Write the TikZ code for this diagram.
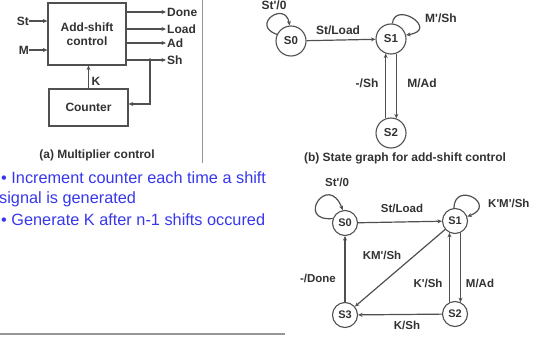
\documentclass[tikz,border=0pt]{standalone}
\usepackage{fontspec}
\setmainfont{Liberation Sans}
\newfontfamily\dfont{Liberation Sans}
\usetikzlibrary{arrows.meta,calc}
\definecolor{ln}{RGB}{80,80,80}
\definecolor{tx}{RGB}{50,50,50}
\definecolor{bl}{RGB}{55,55,235}
\definecolor{sep}{RGB}{150,150,150}
\begin{document}
\begin{tikzpicture}[x=1pt,y=-1pt,
  lbl/.style={font=\dfont\fontsize{12}{13}\selectfont\bfseries, text=tx, inner sep=0pt},
  lblc/.style={font=\dfont\fontsize{11.5}{12}\selectfont\bfseries, text=tx, inner sep=0pt},
  blk/.style={draw=ln, line width=1.2pt, font=\dfont\fontsize{12}{14}\selectfont\bfseries, text=tx, align=center},
  stb/.style={circle, draw=ln, line width=1.1pt, minimum size=30pt, inner sep=0pt, font=\dfont\fontsize{11.5}{12}\selectfont\bfseries, text=tx},
  stc/.style={circle, draw=ln, line width=1.1pt, minimum size=25pt, inner sep=0pt, font=\dfont\fontsize{11}{12}\selectfont\bfseries, text=tx},
  wire/.style={draw=ln, line width=1.2pt},
  arr/.style={wire, -{Stealth[length=4.5pt,width=4pt]}},
  bul/.style={font=\fontsize{16.3}{18}\selectfont, text=bl, anchor=base west, inner sep=0pt}]
\useasboundingbox (0,0) rectangle (543,337);

% ---------- (a) Multiplier control ----------
\node[blk, minimum width=78pt, minimum height=62pt] (ctl) at (87,34) {Add-shift\\control};
\node[blk, minimum width=79pt, minimum height=37pt] (cnt) at (88.5,107.5) {Counter};

\node[lbl, anchor=east] (st) at (29,21) {St};
\node[lbl, anchor=east] (m) at (29,50) {M};
\draw[arr] (st.east) -- (st.east -| ctl.west);
\draw[arr] (m.east) -- (m.east -| ctl.west);

\node[lbl, anchor=west, inner sep=1pt] (done) at (166,12) {Done};
\node[lbl, anchor=west, inner sep=1pt] (load) at (166,29) {Load};
\node[lbl, anchor=west, inner sep=1pt] (ad) at (166,43) {Ad};
\node[lbl, anchor=west, inner sep=1pt] (sh) at (166,60) {Sh};
\draw[arr] (done.west -| ctl.east) -- (done.west);
\draw[arr] (load.west -| ctl.east) -- (load.west);
\draw[arr] (ad.west -| ctl.east) -- (ad.west);
\draw[arr] (sh.west -| ctl.east) -- (sh.west);

\coordinate (shj) at (150,60);
\coordinate (fb) at (150,104);
\fill[ln] (shj) circle (1.8);
\draw[arr] (shj) -- (fb) -- (fb -| cnt.east);

\draw[arr] (cnt.north) -- (cnt.north |- ctl.south);
\node[lbl] (k) at (96,81) {K};

\node[lbl] (capa) at (97,155) {(a) Multiplier control};

\draw[sep, line width=1pt] (202,0) -- (202,163);

% ---------- bullets ----------
\node[bul] (b1) at (1,183) {\textbullet\ Increment counter each time a shift};
\node[bul] (b2) at (-1,203) {signal is generated};
\node[bul] (b3) at (1,225) {\textbullet\ Generate K after n-1 shifts occured};

\draw[sep, line width=1.5pt] (0,334) -- (285,334);

% ---------- (b) state graph ----------
\node[stb] (s0) at (291,41) {S0};
\node[stb] (s1) at (391,39) {S1};
\node[stb] (s2) at (391,133) {S2};

\draw[arr] (s0.155) .. controls (250,25) and (285,0) .. (s0.95);
\node[lbl] (l0) at (274,5.5) {St'/0};
\draw[arr] (s0) -- (s1);
\node[lbl] (l1) at (338,30) {St/Load};
\draw[arr] (s1.85) .. controls (395,0) and (440,30) .. (s1.15);
\node[lbl, anchor=west] (l2) at (425,18) {M'/Sh};
\draw[arr] (s2.110) -- (s1.250);
\draw[arr] (s1.290) -- (s2.70);
\node[lbl] (l3) at (367,83) {-/Sh};
\node[lbl] (l4) at (422,83) {M/Ad};

\node[lbl] (capb) at (405,158) {(b) State graph for add-shift control};

% ---------- (c) state graph ----------
\node[stc] (c0) at (345,223) {S0};
\node[stc] (c1) at (455,221) {S1};
\node[stc] (c2) at (455,314) {S2};
\node[stc] (c3) at (345,315) {S3};

\draw[arr] (c0.160) .. controls (295,222) and (328,172) .. (c0.100);
\node[lblc] (m0) at (337,182) {St'/0};
\draw[arr] (c1.95) .. controls (455,180) and (498,205) .. (c1.20);
\node[lblc, anchor=west] (m1) at (488,203) {K'M'/Sh};
\draw[arr] (c0) -- (c1);
\node[lblc] (m2) at (402,208) {St/Load};
\draw[arr] (c1) -- (c3);
\node[lblc] (m3) at (382,255) {KM'/Sh};
\draw[arr] (c3) -- (c0);
\node[lblc] (m4) at (318,278) {-/Done};
\draw[arr] (c2.115) -- (c1.245);
\draw[arr] (c1.295) -- (c2.65);
\node[lblc] (m5) at (428,283) {K'/Sh};
\node[lblc] (m6) at (480,283) {M/Ad};
\draw[arr] (c2) -- (c3);
\node[lblc] (m7) at (407,325) {K/Sh};
\end{tikzpicture}
\end{document}
